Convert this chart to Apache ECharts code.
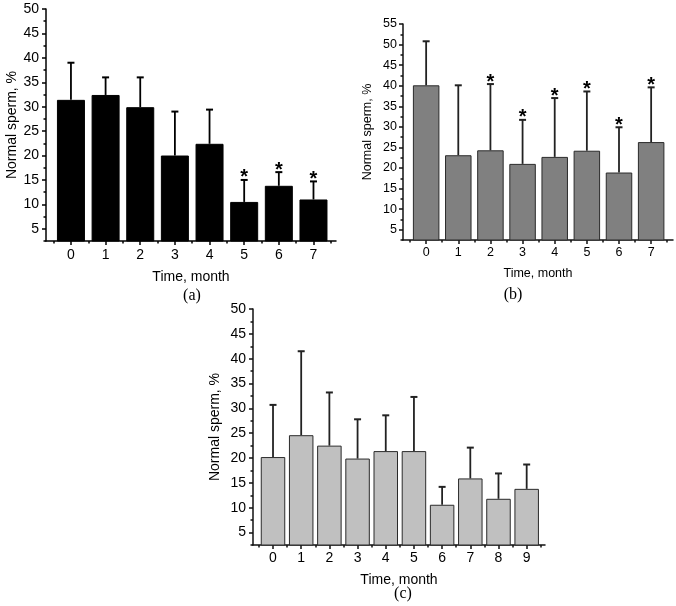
<!DOCTYPE html>
<html>
<head>
<meta charset="utf-8">
<script src="https://cdn.jsdelivr.net/npm/echarts@6/dist/echarts.min.js"></script>
<style>
html,body{margin:0;padding:0;background:#fff;}
#chart{width:676px;height:606px;}
</style>
</head>
<body>
<div id="chart"></div>
<script>
// ---- data ----
const monthsA = [0, 1, 2, 3, 4, 5, 6, 7];
const meanA   = [31.4, 32.4, 29.9, 20.0, 22.4, 10.5, 13.8, 11.0];
const upperA  = [39.0, 36.0, 36.0, 29.0, 29.4, 15.0, 16.6, 14.7];
const sigA    = [0, 0, 0, 0, 0, 1, 1, 1];

const monthsB = [0, 1, 2, 3, 4, 5, 6, 7];
const meanB   = [40.1, 23.1, 24.3, 21.0, 22.7, 24.2, 18.9, 26.3];
const upperB  = [50.8, 40.1, 40.4, 31.7, 37.0, 38.6, 29.9, 39.6];
const sigB    = [0, 0, 1, 1, 1, 1, 1, 1];

const monthsC = [0, 1, 2, 3, 4, 5, 6, 7, 8, 9];
const meanC   = [20.2, 24.6, 22.5, 19.9, 21.4, 21.4, 10.6, 15.9, 11.8, 13.8];
const upperC  = [30.7, 41.5, 33.2, 27.8, 28.6, 32.3, 14.2, 22.1, 16.9, 18.7];
const sigC    = [0, 0, 0, 0, 0, 0, 0, 0, 0, 0];

const yTicksA = [5, 10, 15, 20, 25, 30, 35, 40, 45, 50];
const yTicksB = [5, 10, 15, 20, 25, 30, 35, 40, 45, 50, 55];
const yTicksC = [5, 10, 15, 20, 25, 30, 35, 40, 45, 50];

const xName = 'Time, month';
const yName = 'Normal sperm, %';
const panelLabels = ['(a)', '(b)', '(c)'];

// ---- layout / style ----
const FONT = 'Liberation Sans';
const panels = [
  { months: monthsA, mean: meanA, upper: upperA, sig: sigA, yTicks: yTicksA, yMax: 50,
    grid: { left: 46, top: 9, width: 290, height: 232 },
    xMin: -0.72, xMax: 7.65, barW: 28, barColor: '#000000', borderColor: '#000000', errColor: '#000000',
    fs: 14, xGap: 29, yGap: 26, xMargin: 7, yMargin: 7, axisColor: '#000', cap: { x: 192, y: 296 } },
  { months: monthsB, mean: meanB, upper: upperB, sig: sigB, yTicks: yTicksB, yMax: 55,
    grid: { left: 403, top: 24, width: 270, height: 216 },
    xMin: -0.72, xMax: 7.68, barW: 26.5, barColor: '#808080', borderColor: '#2a2a2a', errColor: '#222',
    fs: 12.5, xGap: 27, yGap: 29, xMargin: 6, yMargin: 6, axisColor: '#111', cap: { x: 513, y: 295 } },
  { months: monthsC, mean: meanC, upper: upperC, sig: sigC, yTicks: yTicksC, yMax: 50,
    grid: { left: 253, top: 309, width: 292, height: 236 },
    xMin: -0.71, xMax: 9.65, barW: 24.5, barColor: '#c0c0c0', borderColor: '#2a2a2a', errColor: '#222',
    fs: 14, xGap: 28, yGap: 31, xMargin: 6, yMargin: 7, axisColor: '#111', cap: { x: 403, y: 594 } }
];

const grids = [], xAxes = [], yAxes = [], series = [], graphics = [];

panels.forEach((p, i) => {
  grids.push(Object.assign({ containLabel: false }, p.grid));
  const xMinor = p.months.map(m => m - 0.5).concat([p.months[p.months.length - 1] + 0.5]);
  const yMinor = p.yTicks.map(v => v - 2.5);
  const lineStyle = { color: p.axisColor, width: 1.5 };
  const text = { fontFamily: FONT, fontSize: p.fs, color: '#000' };

  xAxes.push({
    gridIndex: i, type: 'value', position: 'bottom', min: p.xMin, max: p.xMax,
    axisLine: { show: true, onZero: false, lineStyle },
    axisTick: { show: true, customValues: p.months, length: 4, lineStyle },
    axisLabel: Object.assign({ customValues: p.months, margin: p.xMargin }, text),
    splitLine: { show: false },
    name: xName, nameLocation: 'middle', nameGap: p.xGap,
    nameTextStyle: { fontFamily: FONT, fontSize: p.fs, color: '#000' }
  });
  xAxes.push({
    gridIndex: i, type: 'value', position: 'bottom', min: p.xMin, max: p.xMax,
    axisLine: { show: false, onZero: false },
    axisTick: { show: true, customValues: xMinor, length: 2.5, lineStyle },
    axisLabel: { show: false }, splitLine: { show: false }
  });
  yAxes.push({
    gridIndex: i, type: 'value', position: 'left', min: 2.5, max: p.yMax,
    axisLine: { show: true, onZero: false, lineStyle },
    axisTick: { show: true, customValues: p.yTicks, length: 4, lineStyle },
    axisLabel: Object.assign({ customValues: p.yTicks, margin: p.yMargin }, text),
    splitLine: { show: false },
    name: yName, nameLocation: 'middle', nameGap: p.yGap, nameRotate: 90,
    nameTextStyle: { fontFamily: FONT, fontSize: p.fs, color: '#000' }
  });
  yAxes.push({
    gridIndex: i, type: 'value', position: 'left', min: 2.5, max: p.yMax,
    axisLine: { show: false, onZero: false },
    axisTick: { show: true, customValues: yMinor, length: 2.5, lineStyle },
    axisLabel: { show: false }, splitLine: { show: false }
  });

  series.push({
    type: 'bar', xAxisIndex: 2 * i, yAxisIndex: 2 * i,
    data: p.months.map((m, k) => [m, p.mean[k]]),
    barWidth: p.barW,
    itemStyle: { color: p.barColor, borderColor: p.borderColor, borderWidth: 1 },
    silent: true, z: 2
  });

  const errColor = p.errColor;
  series.push({
    type: 'custom', xAxisIndex: 2 * i, yAxisIndex: 2 * i,
    data: p.months.map((m, k) => [m, p.mean[k], p.upper[k], p.sig[k]]),
    silent: true, z: 3,
    renderItem: function (params, api) {
      const x = api.value(0), m = api.value(1), u = api.value(2), s = api.value(3);
      const p0 = api.coord([x, m]);
      const p1 = api.coord([x, u]);
      const children = [
        { type: 'line', shape: { x1: p0[0], y1: p0[1], x2: p1[0], y2: p1[1] },
          style: { stroke: errColor, lineWidth: 1.8 } },
        { type: 'line', shape: { x1: p1[0] - 3.5, y1: p1[1], x2: p1[0] + 3.5, y2: p1[1] },
          style: { stroke: errColor, lineWidth: 2 } }
      ];
      if (s) {
        children.push({
          type: 'text', x: p1[0], y: p1[1] - 2,
          style: { text: '*', textAlign: 'center', textVerticalAlign: 'middle',
                   font: 'bold 20px ' + FONT, fill: '#000' }
        });
      }
      return { type: 'group', children };
    }
  });

  graphics.push({
    type: 'text', x: p.cap.x, y: p.cap.y,
    style: { text: panelLabels[i], textAlign: 'center', textVerticalAlign: 'middle',
             font: '16px "Liberation Serif"', fill: '#000' }
  });
});

const chart = echarts.init(document.getElementById('chart'), null, { renderer: 'canvas' });
chart.setOption({
  animation: false,
  backgroundColor: '#fff',
  grid: grids, xAxis: xAxes, yAxis: yAxes, series, graphic: graphics
});
</script>
</body>
</html>
